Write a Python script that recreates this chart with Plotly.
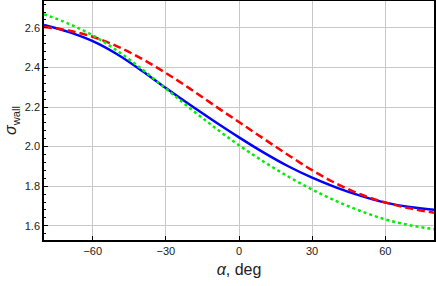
import plotly.graph_objects as go

alpha = [-80, -70, -60, -50, -40, -30, -20, -10, 0, 10, 20, 30, 40, 50, 60, 70, 80]
sigma_blue = [2.615, 2.580, 2.533, 2.467, 2.385, 2.296, 2.210, 2.127, 2.047, 1.971, 1.902, 1.843, 1.793, 1.751, 1.717, 1.695, 1.681]
sigma_red = [2.605, 2.587, 2.555, 2.507, 2.445, 2.372, 2.292, 2.207, 2.124, 2.041, 1.959, 1.881, 1.813, 1.758, 1.718, 1.688, 1.666]
sigma_green = [2.669, 2.622, 2.562, 2.485, 2.393, 2.293, 2.193, 2.097, 2.007, 1.925, 1.850, 1.783, 1.724, 1.674, 1.632, 1.603, 1.583]

x_ticks = [-60, -30, 0, 30, 60]
y_ticks = [1.6, 1.8, 2.0, 2.2, 2.4, 2.6]

fig = go.Figure()
fig.add_trace(go.Scatter(x=alpha, y=sigma_blue, mode="lines",
                         line=dict(color="#0000ff", width=2.5, shape="spline", smoothing=1.0)))
fig.add_trace(go.Scatter(x=alpha, y=sigma_red, mode="lines",
                         line=dict(color="#ff0000", width=2.5, dash="8px,4px", shape="spline", smoothing=1.0)))
fig.add_trace(go.Scatter(x=alpha, y=sigma_green, mode="lines",
                         line=dict(color="#00ee00", width=2.5, dash="3px,3px", shape="spline", smoothing=1.0)))

fig.update_layout(
    width=436, height=286,
    margin=dict(l=44, r=2, t=1, b=46),
    paper_bgcolor="white", plot_bgcolor="white",
    showlegend=False,
    font=dict(family="Liberation Sans, Arial, sans-serif", color="#222", size=11),
)
fig.update_xaxes(
    range=[-80, 80], tickvals=x_ticks, ticks="inside", ticklen=4, tickcolor="black",
    showgrid=True, gridcolor="#c8c8c8", gridwidth=1,
    showline=True, linecolor="black", linewidth=1.5, mirror=True,
    zeroline=False, tickfont=dict(size=11), automargin=False,
    title=dict(text="<i>α</i>, deg", font=dict(size=16), standoff=8),
)
fig.update_yaxes(
    range=[1.528, 2.736], tickvals=y_ticks, tickformat=".1f", ticks="inside", ticklen=4,
    tickcolor="black",
    minor=dict(dtick=0.04, tick0=1.6, ticks="inside", ticklen=2.5, tickcolor="black", showgrid=False),
    showgrid=True, gridcolor="#c8c8c8", gridwidth=1,
    showline=True, linecolor="black", linewidth=1.5, mirror=True,
    zeroline=False, tickfont=dict(size=11), automargin=False,
    title=dict(text="<i>σ</i><sub>wall</sub>", font=dict(size=16), standoff=4),
)

fig.write_html("out.html", config={"displayModeBar": False},
               post_script="document.body.style.margin='0';document.body.style.overflow='hidden';")
